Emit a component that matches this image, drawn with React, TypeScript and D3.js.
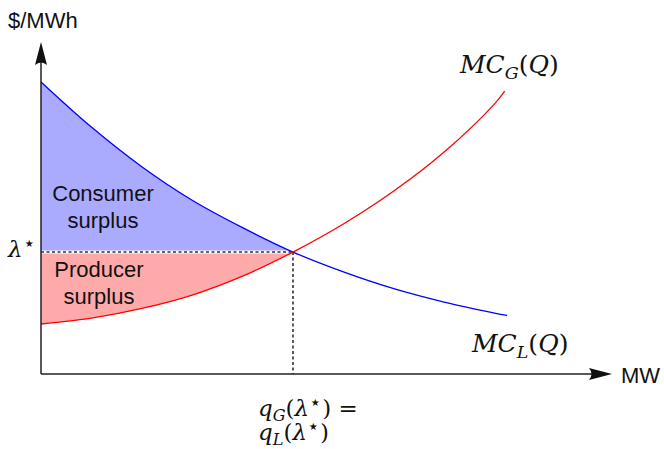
import {useEffect, useRef} from "react";
import * as d3 from "d3";

// marginal cost curves (Q in MW, P in $/MWh)
const loadQ = [0, 1, 2, 3, 4, 5, 6, 7, 8, 9, 9.25];
const loadP = [95.8, 81, 68, 57, 48, 40, 33.5, 28, 23.6, 20, 19.2];
const genQ = [0, 1, 2, 3, 4, 5, 6, 7, 8, 9, 9.2];
const genP = [16.4, 18.3, 21.5, 25.9, 32.1, 40, 49.2, 60, 72.8, 88.6, 92.8];

const qStar = 5;
const lambdaStar = 40;
const xMax = 11.33;
const yMax = 108.9;

function App() {

    const ref = useRef<SVGSVGElement>(null);

    useEffect(() => {

        let width = 664, height = 449;
        let margin = {top: 42, right: 52, bottom: 75, left: 41};

        let svg = d3.select(ref.current)
            .attr("width", width)
            .attr("height", height);
        svg.selectAll("*").remove();

        let x = d3.scaleLinear().domain([0, xMax]).range([margin.left, width - margin.right]);
        let y = d3.scaleLinear().domain([0, yMax]).range([height - margin.bottom, margin.top]);

        let load = loadQ.map((q, i) => ({q: q, p: loadP[i]}));
        let gen = genQ.map((q, i) => ({q: q, p: genP[i]}));

        let curve = d3.curveCatmullRom.alpha(0.5);

        // surplus areas
        let surplusArea = d3.area<{q: number, p: number}>()
            .x(d => x(d.q))
            .y0(y(lambdaStar))
            .y1(d => y(d.p))
            .curve(curve);
        svg.append("path")
            .attr("d", surplusArea(load.filter(d => d.q <= qStar)))
            .attr("fill", "#aaaaff");
        svg.append("path")
            .attr("d", surplusArea(gen.filter(d => d.q <= qStar)))
            .attr("fill", "#ffaaaa");

        // dashed guides
        svg.append("line")
            .attr("x1", x(0)).attr("x2", x(qStar))
            .attr("y1", y(lambdaStar)).attr("y2", y(lambdaStar))
            .attr("stroke", "white").attr("stroke-width", 3);
        svg.append("line")
            .attr("x1", x(0)).attr("x2", x(qStar))
            .attr("y1", y(lambdaStar)).attr("y2", y(lambdaStar))
            .attr("stroke", "#333").attr("stroke-width", 1.6)
            .attr("stroke-dasharray", "3,2.5");
        svg.append("line")
            .attr("x1", x(qStar)).attr("x2", x(qStar))
            .attr("y1", y(lambdaStar)).attr("y2", y(0))
            .attr("stroke", "#333").attr("stroke-width", 1.6)
            .attr("stroke-dasharray", "3,2.5");

        // curves
        let line = d3.line<{q: number, p: number}>()
            .x(d => x(d.q))
            .y(d => y(d.p))
            .curve(curve);
        svg.append("path")
            .attr("d", line(load))
            .attr("fill", "none")
            .attr("stroke", "#0000ff")
            .attr("stroke-width", 1.3);
        svg.append("path")
            .attr("d", line(gen))
            .attr("fill", "none")
            .attr("stroke", "#ff0000")
            .attr("stroke-width", 1.3);

        // axes with arrows
        svg.append("line")
            .attr("x1", x(0)).attr("x2", x(xMax) - 10)
            .attr("y1", y(0)).attr("y2", y(0))
            .attr("stroke", "#222").attr("stroke-width", 1.5);
        svg.append("line")
            .attr("x1", x(0)).attr("x2", x(0))
            .attr("y1", y(0)).attr("y2", y(yMax) + 10)
            .attr("stroke", "#222").attr("stroke-width", 1.5);

        let arrow = "M0,0 L-23,-6 Q-18,0 -23,6 Z";
        svg.append("path")
            .attr("d", arrow)
            .attr("transform", `translate(${x(xMax)},${y(0)})`)
            .attr("fill", "#111");
        svg.append("path")
            .attr("d", arrow)
            .attr("transform", `translate(${x(0)},${y(yMax)}) rotate(-90)`)
            .attr("fill", "#111");

        // sans labels
        let sans = "'Liberation Sans', Arial, sans-serif";
        svg.append("text")
            .attr("x", 8).attr("y", 28)
            .style("font-family", sans).style("font-size", "22px")
            .attr("fill", "#111")
            .text("$/MWh");
        svg.append("text")
            .attr("x", 621).attr("y", 383)
            .style("font-family", sans).style("font-size", "22px")
            .attr("fill", "#111")
            .text("MW");

        let surplus = [
            {lines: ["Consumer", "surplus"], cx: 103, y: 201},
            {lines: ["Producer", "surplus"], cx: 99, y: 277}
        ];
        surplus.forEach(s => {
            s.lines.forEach((t, i) => {
                svg.append("text")
                    .attr("x", s.cx).attr("y", s.y + i * 27)
                    .attr("text-anchor", "middle")
                    .style("font-family", sans).style("font-size", "22px")
                    .attr("fill", "#111")
                    .text(t);
            });
        });

        // math labels
        let serif = "'DejaVu Serif', 'Liberation Serif', serif";

        function mathLabel(px: number, py: number, parts: [string, string][], size: number) {
            let t = svg.append("text")
                .attr("x", px).attr("y", py)
                .style("font-family", serif).style("font-size", size + "px")
                .attr("fill", "#111");
            parts.forEach(([kind, str]) => {
                let ts = t.append("tspan").text(str);
                if (kind === "i") ts.style("font-style", "italic");
                if (kind === "sub") {
                    ts.style("font-style", "italic").style("font-size", (size * 0.7) + "px").attr("dy", size * 0.22);
                }
                if (kind === "up") ts.attr("dy", -size * 0.22);
                if (kind === "sup") ts.style("font-size", (size * 0.85) + "px").attr("dy", -size * 0.3);
                if (kind === "down") ts.attr("dy", size * 0.3);
            });
        }

        mathLabel(460, 73, [["i", "MC"], ["sub", "G"], ["up", "("], ["i", "Q"], ["n", ")"]], 25);
        mathLabel(472, 352, [["i", "MC"], ["sub", "L"], ["up", "("], ["i", "Q"], ["n", ")"]], 25);
        mathLabel(8, 257, [["i", "λ"], ["sup", "⋆"]], 23);
        mathLabel(x(qStar) - 35, 416, [["i", "q"], ["sub", "G"], ["up", "("], ["i", "λ"], ["sup", "⋆"], ["down", ") ="]], 23);
        mathLabel(x(qStar) - 35, 440, [["i", "q"], ["sub", "L"], ["up", "("], ["i", "λ"], ["sup", "⋆"], ["down", ")"]], 23);

    }, []);

    return <svg ref={ref} style={{position: "absolute", left: 0, top: 0}}></svg>
}

export default App;
